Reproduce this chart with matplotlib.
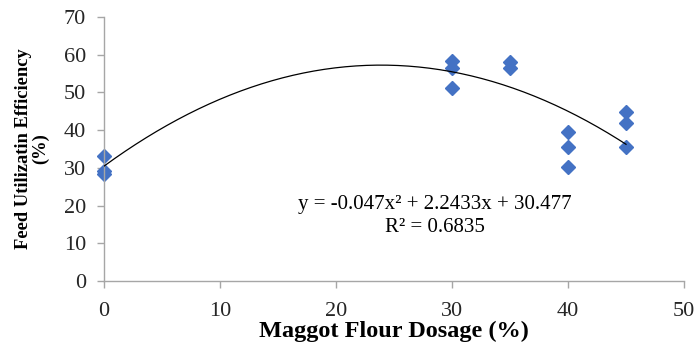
import numpy as np
import matplotlib.pyplot as plt

plt.rcParams['font.family'] = ['Liberation Serif', 'DejaVu Serif']

# dosage (%) and feed utilization efficiency (%)
dosage = [0, 0, 0, 30, 30, 30, 35, 35, 40, 40, 40, 45, 45, 45]
efficiency = [33.2, 29.2, 28.4, 58.3, 56.6, 51.2, 58.0, 56.5, 39.6, 35.4, 30.2, 44.8, 42.0, 35.4]

# polynomial trendline coefficients (from the chart label)
coef = [-0.047, 2.2433, 30.477]
r2 = 0.6835

blue = '#4472C4'
grey = '#A6A6A6'

fig = plt.figure(figsize=(6.94, 3.45), dpi=100)
ax = fig.add_axes([0.150, 0.1855, 0.8356, 0.7652])

xs = np.linspace(min(dosage), max(dosage), 200)
ax.plot(xs, np.polyval(coef, xs), color='black', lw=0.9, zorder=3)
ax.plot(dosage, efficiency, linestyle='none', marker='D', ms=7.6,
        color=blue, clip_on=False, zorder=2)

ax.set_xlim(0, 50)
ax.set_ylim(0, 70)
ax.set_xticks(range(0, 51, 10))
ax.set_yticks(range(0, 71, 10))

for s in ['top', 'right']:
    ax.spines[s].set_visible(False)
for s in ['left', 'bottom']:
    ax.spines[s].set_color(grey)
    ax.spines[s].set_linewidth(1.0)
ax.tick_params(colors=grey, labelcolor='#262626', labelsize=16, length=5, width=1.0)
ax.tick_params(axis='x', pad=10)
ax.tick_params(axis='y', pad=8)

ax.set_xlabel('Maggot Flour Dosage (%)', fontsize=17.5, fontweight='bold', labelpad=0)
ax.set_ylabel('Feed Utilizatin Efficiency\n(%)', fontsize=13.3, fontweight='bold',
              linespacing=1.0)
ax.yaxis.set_label_coords(-0.094, 0.5)

ax.text(28.5, 20.2, 'y = -0.047x\u00b2 + 2.2433x + 30.477', ha='center', va='center', fontsize=15)
ax.text(28.5, 14.1, 'R\u00b2 = %s' % r2, ha='center', va='center', fontsize=15)

fig.savefig('out.png', dpi=100)
